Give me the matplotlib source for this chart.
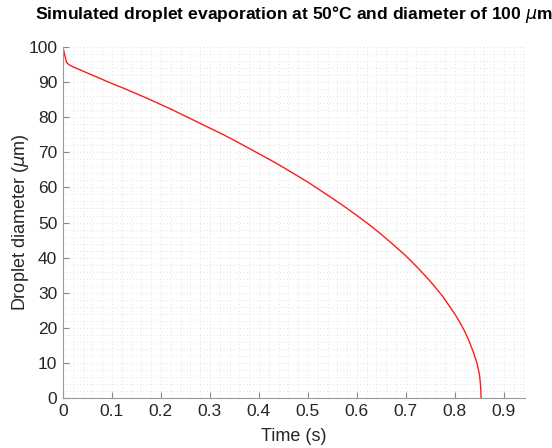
import matplotlib
matplotlib.use("Agg")
import matplotlib.pyplot as plt
from matplotlib.ticker import MultipleLocator

# values
time_s = [0.0, 0.002, 0.004, 0.0075, 0.012, 0.02, 0.035, 0.05, 0.075, 0.1,
          0.125, 0.15, 0.175, 0.2, 0.225, 0.25, 0.275, 0.3, 0.325, 0.35,
          0.375, 0.4, 0.425, 0.45, 0.475, 0.5, 0.525, 0.55, 0.575, 0.6,
          0.625, 0.65, 0.675, 0.7, 0.725, 0.75, 0.775, 0.8, 0.81, 0.82,
          0.83, 0.837, 0.845, 0.85, 0.852, 0.853, 0.8535]
diameter_um = [100.0, 98.8, 97.5, 95.6, 95.0, 94.4, 93.5, 92.6, 91.1, 89.6,
               88.2, 86.7, 85.2, 83.6, 82.0, 80.3, 78.6, 76.9, 75.2, 73.4,
               71.5, 69.6, 67.7, 65.7, 63.6, 61.5, 59.2, 56.9, 54.5, 52.0,
               49.4, 46.6, 43.6, 40.5, 37.0, 33.2, 29.0, 23.9, 21.6, 19.0,
               15.9, 13.3, 10.0, 6.8, 4.2, 2.0, 0.0]

x_ticks = [0, 0.1, 0.2, 0.3, 0.4, 0.5, 0.6, 0.7, 0.8, 0.9]
y_ticks = [0, 10, 20, 30, 40, 50, 60, 70, 80, 90, 100]

plt.rcParams['font.family'] = ['Liberation Sans', 'DejaVu Sans']
plt.rcParams['mathtext.fontset'] = 'dejavusans'

fig = plt.figure(figsize=(5.52, 4.48), dpi=100)
ax = fig.add_axes([0.114, 0.1116, 0.837, 0.7834])

ax.plot(time_s, diameter_um, color='#ff1a1a', linewidth=1.0)

ax.set_xlim(0, 0.943)
ax.set_ylim(0, 100)
ax.set_xticks(x_ticks)
ax.set_xticklabels([('%g' % v) for v in x_ticks])
ax.set_yticks(y_ticks)
ax.xaxis.set_minor_locator(MultipleLocator(0.02))
ax.yaxis.set_minor_locator(MultipleLocator(2))

# faint dotted minor grid, no major grid
ax.grid(which='both', linestyle=(0, (1, 3)), linewidth=0.6, color='#d9d9d9')
ax.set_axisbelow(True)

ax.tick_params(which='major', direction='in', length=4, width=0.8,
               color='#888888', labelsize=12.5, labelcolor='#262626', pad=4)
ax.tick_params(which='minor', length=0)

for side in ['top', 'right']:
    ax.spines[side].set_visible(False)
for side in ['left', 'bottom']:
    ax.spines[side].set_color('#999999')
    ax.spines[side].set_linewidth(0.8)

ax.set_xlabel('Time (s)', fontsize=13, color='#262626', labelpad=7)
ax.set_ylabel(r'Droplet diameter ($\mu$m)', fontsize=13, color='#262626', labelpad=-2)
ax.set_title(r'Simulated droplet evaporation at 50°C and diameter of 100 $\mu$m',
             fontsize=12.6, fontweight='bold', pad=20)

fig.savefig('out.png', dpi=100)
